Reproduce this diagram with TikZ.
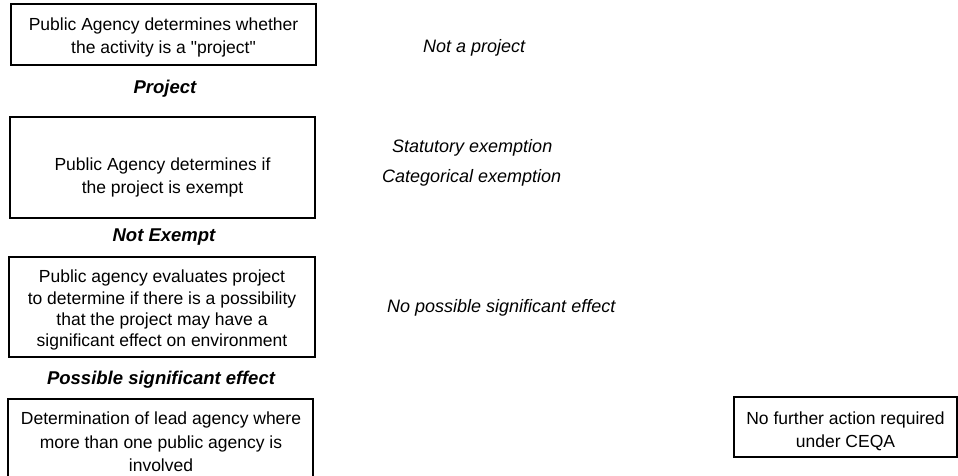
\documentclass[tikz,border=0pt]{standalone}
\usepackage{fontspec}
\setmainfont{Liberation Sans}
\begin{document}
\begin{tikzpicture}[x=1bp,y=-1bp,
  box/.style={draw=black, line width=1.2bp, rectangle, inner sep=0pt, anchor=center},
  boxtext/.style={align=center, inner sep=0pt, font=\fontsize{17.5bp}{23bp}\selectfont},
  branch/.style={anchor=base west, inner sep=0pt, font=\fontsize{18bp}{22bp}\selectfont\itshape},
  outcome/.style={anchor=base, inner sep=0pt, font=\fontsize{18.5bp}{22bp}\selectfont\bfseries\itshape}]
\useasboundingbox (0,0) rectangle (958,476);

% boxes
\node[box, minimum width=305bp, minimum height=61bp] (b1) at (163.5,34.5) {};
\node[box, minimum width=305bp, minimum height=101bp] (b2) at (162.5,167.5) {};
\node[box, minimum width=306bp, minimum height=100bp] (b3) at (162,307) {};
\node[box, minimum width=223bp, minimum height=60bp] (b5) at (845.5,427) {};
\draw[line width=1.2bp] (8,476) -- (8,399) -- (313,399) -- (313,476);

% box texts
\node[boxtext] (t1) at (163.5,37) {Public Agency determines whether\\the activity is a \textquotedbl project\textquotedbl};
\node[boxtext] (t2) at (162.5,177) {Public Agency determines if\\the project is exempt};
\node[boxtext, font=\fontsize{17.5bp}{21.3bp}\selectfont] (t3) at (162,310.3) {Public agency evaluates project\\to determine if there is a possibility\\that the project may have a\\significant effect on environment};
\node[boxtext, font=\fontsize{17.5bp}{23.5bp}\selectfont] (t4) at (161,441.8) {Determination of lead agency where\\more than one public agency is\\involved};
\node[boxtext] (t5) at (845.5,431.8) {No further action required\\under CEQA};

% outcome labels
\node[outcome] (o1) at (165,94) {Project};
\node[outcome] (o2) at (164,242) {Not Exempt};
\node[outcome] (o3) at (161,385) {Possible significant effect};

% branch labels
\node[branch] (n1) at (423,53) {Not a project};
\node[branch] (n2) at (392,153) {Statutory exemption};
\node[branch] (n3) at (382,183) {Categorical exemption};
\node[branch] (n4) at (387,313) {No possible significant effect};
\end{tikzpicture}
\end{document}
